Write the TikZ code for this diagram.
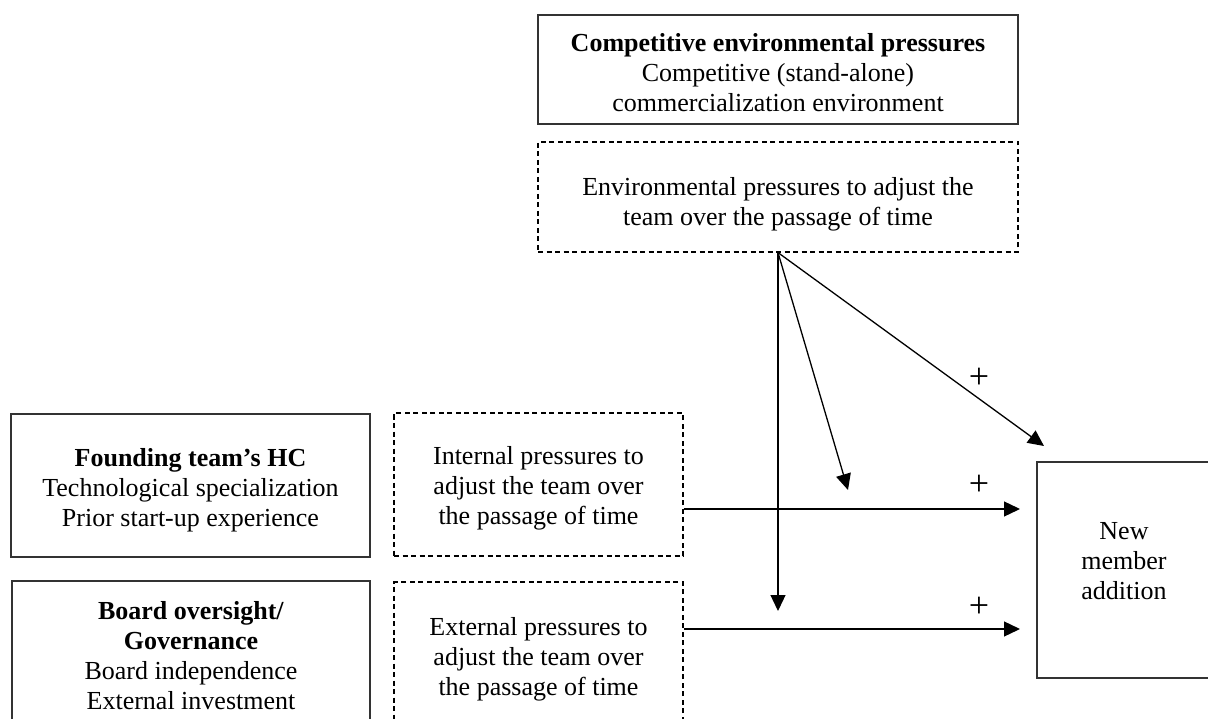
\documentclass[tikz,border=0pt]{standalone}
\usepackage{fontspec}
\setmainfont{Liberation Serif}
\usetikzlibrary{arrows.meta,calc}
\begin{document}
\begin{tikzpicture}[x=1pt,y=-1pt,
  every node/.style={font=\fontsize{26}{30}\selectfont, align=center, inner sep=0pt},
  solidbox/.style={draw=black!80, line width=1.4pt, rectangle},
  dashbox/.style={draw=black, line width=1.2pt, dash pattern=on 5pt off 3.5pt, rectangle},
  arr/.style={draw, line width=1.3pt, -{Triangle[length=16pt,width=15pt]}},
  plussign/.style={font=\fontsize{36}{36}\selectfont}]
\useasboundingbox (0,0) rectangle (1208,719);

% boxes; each text sits at the box centre, nudged by its yshift
\node[solidbox, minimum width=480pt, minimum height=109pt,
  label={[name=comptext, yshift=-3pt]center:\textbf{Competitive environmental pressures}\\Competitive (stand-alone)\\commercialization environment}]
  (comp) at (778,69.5) {};
\node[dashbox, minimum width=480pt, minimum height=110pt,
  label={[name=envtext, yshift=-7pt]center:Environmental pressures to adjust the\\team over the passage of time}]
  (env) at (778,197) {};
\node[solidbox, minimum width=359pt, minimum height=143pt,
  label={[name=foundtext, yshift=-5pt]center:\textbf{Founding team’s HC}\\Technological specialization\\Prior start-up experience}]
  (found) at (190.5,485.5) {};
\node[dashbox, minimum width=289pt, minimum height=143pt,
  label={[name=inttext, yshift=-4pt]center:Internal pressures to\\adjust the team over\\the passage of time}]
  (int) at (538.5,484.5) {};
\node[solidbox, minimum width=358pt, minimum height=148pt,
  label={[name=boardtext, yshift=-1pt]center:\textbf{Board oversight/}\\\textbf{Governance}\\Board independence\\External investment}]
  (board) at (191,655) {};
\node[dashbox, minimum width=289pt, minimum height=148pt,
  label={[name=exttext, yshift=-3pt]center:External pressures to\\adjust the team over\\the passage of time}]
  (ext) at (538.5,656) {};
\node[solidbox, minimum width=174pt, minimum height=216pt,
  label={[name=nmtext, yshift=9pt]center:New\\member\\addition}]
  (nm) at (1124,570) {};

% arrow end points
\coordinate (vtip) at (778,611);
\coordinate (mtip) at (848,490);
\coordinate (dtip) at (1044,446);
\coordinate (itip) at (1020,509);
\coordinate (etip) at (1020,629);

% connectors
\draw[arr] (env.south) -- (vtip);
\draw[arr] (env.south) -- (mtip);
\draw[arr] (env.south) -- (dtip);
\draw[arr] (int.east |- itip) -- (itip);
\draw[arr] (ext.east |- etip) -- (etip);

% signs
\node[plussign] (p1) at (979,378) {+};
\node[plussign] (p2) at (979,485) {+};
\node[plussign] (p3) at (979,607) {+};
\end{tikzpicture}
\end{document}
